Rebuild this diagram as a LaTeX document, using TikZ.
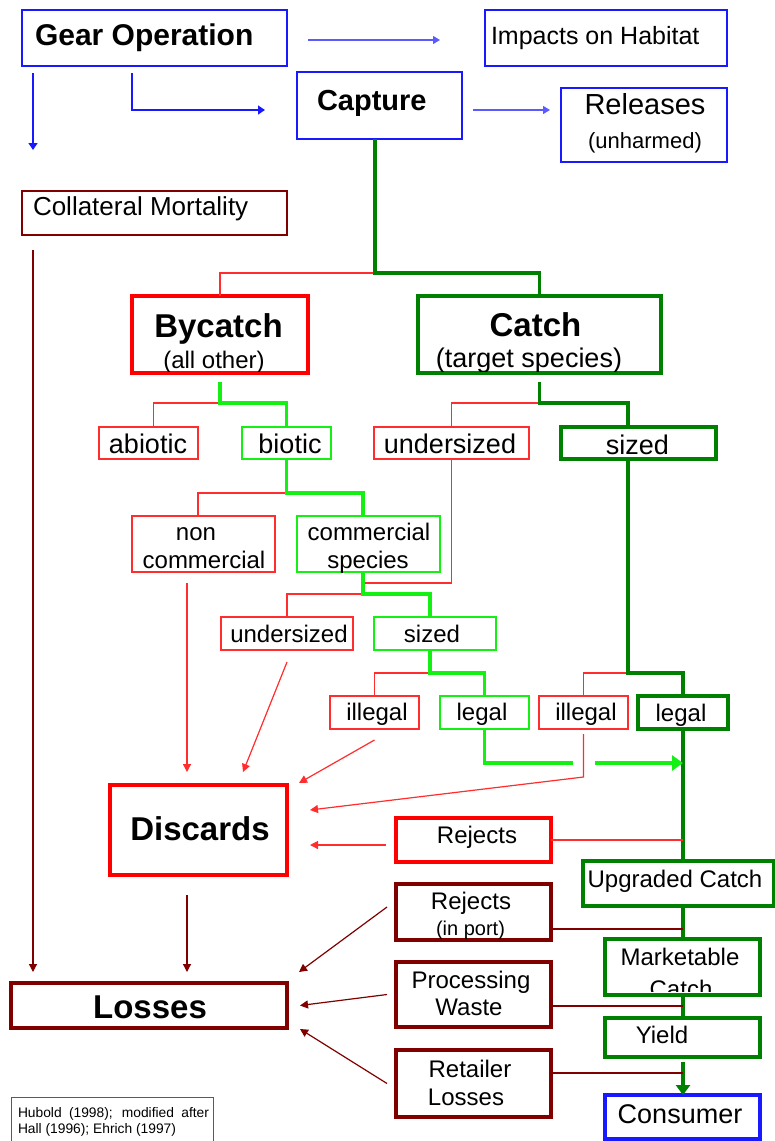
\documentclass[tikz,border=0pt]{standalone}
\usepackage{fontspec}
\setmainfont{Liberation Sans}
\usetikzlibrary{arrows.meta,calc}
\definecolor{myblue}{RGB}{25,25,255}
\definecolor{lblue}{RGB}{90,90,255}
\definecolor{myred}{RGB}{255,0,0}
\definecolor{tred}{RGB}{255,45,45}
\definecolor{dred}{RGB}{128,0,0}
\definecolor{dgreen}{RGB}{0,128,0}
\definecolor{lgreen}{RGB}{20,240,20}
\definecolor{cgray}{RGB}{90,90,90}
\newcommand\fsz[1]{\fontsize{#1pt}{#1pt}\selectfont}
\newcommand\mkbox[6]{\node[#2, minimum width={(#5-#3)*1pt}, minimum height={(#6-#4)*1pt}] (#1) at ({(#3+#5)/2},{(#4+#6)/2}) {};}
\tikzset{
  bx/.style={draw, rectangle, inner sep=0pt, outer sep=0pt},
  bluebox/.style={bx, draw=myblue, line width=2pt},
  bluethick/.style={bx, draw=myblue, line width=3.5pt},
  dredthin/.style={bx, draw=dred, line width=2pt},
  dredbox/.style={bx, draw=dred, line width=3.2pt},
  redbig/.style={bx, draw=myred, line width=3.5pt},
  redthin/.style={bx, draw=tred, line width=1.5pt},
  dgbox/.style={bx, draw=dgreen, line width=3.2pt},
  lgbox/.style={bx, draw=lgreen, line width=1.5pt},
  citebox/.style={bx, draw=cgray, line width=1pt},
  tx/.style={inner sep=0pt, outer sep=0pt, anchor=base},
  gthick/.style={draw=dgreen, line width=3.2pt},
  lgthick/.style={draw=lgreen, line width=3.2pt},
  rthin/.style={draw=tred, line width=1.4pt},
  drthin/.style={draw=dred, line width=1.4pt},
  barrow/.style={draw=myblue, line width=1.3pt, -{Triangle[length=7pt,width=9pt]}},
  lbarrow/.style={draw=lblue, line width=1.3pt, -{Triangle[length=7pt,width=8pt]}},
  rarrow/.style={draw=tred, line width=1.2pt, -{Triangle[length=8pt,width=8pt]}},
  drarrow/.style={draw=dred, line width=1.2pt, -{Triangle[length=8pt,width=8pt]}},
}
\begin{document}
\begin{tikzpicture}[x=1pt,y=-1pt]
\useasboundingbox (0,0) rectangle (775,1141);
\clip (0,0) rectangle (775,1141);
\fill[white] (0,0) rectangle (775,1141);

% boxes
\mkbox{gear}{bluebox}{22}{10}{287}{66}
\mkbox{imp}{bluebox}{485}{10}{727}{66}
\mkbox{cap}{bluebox}{297}{72}{462}{139}
\mkbox{rel}{bluebox}{561}{88}{727}{162}
\mkbox{col}{dredthin}{22}{191}{287}{235}
\mkbox{byc}{redbig}{132}{296}{308}{373}
\mkbox{cat}{dgbox}{418}{296}{661}{373}
\mkbox{abio}{redthin}{99}{427}{198}{459}
\mkbox{bio}{lgbox}{242}{427}{331}{459}
\mkbox{und1}{redthin}{374}{427}{529}{459}
\mkbox{siz1}{dgbox}{561}{427}{716}{459}
\mkbox{nonc}{redthin}{132}{516}{275}{572}
\mkbox{coms}{lgbox}{297}{516}{440}{572}
\mkbox{und2}{redthin}{221}{617}{353}{650}
\mkbox{siz2}{lgbox}{374}{617}{496}{650}
\mkbox{ill1}{redthin}{330}{696}{419}{729}
\mkbox{leg1}{lgbox}{440}{696}{529}{729}
\mkbox{ill2}{redthin}{539}{696}{628}{729}
\mkbox{leg2}{dgbox}{638}{696}{728}{729}
\mkbox{disc}{redbig}{110}{785}{287}{875}
\mkbox{rej}{bx,draw=myred,line width=3.2pt}{396}{818}{551}{862}
\mkbox{upg}{dgbox}{583}{861}{774}{906}
\mkbox{rejp}{dredbox}{396}{884}{551}{940}
\mkbox{mkt}{dgbox}{605}{939}{760}{995}
\mkbox{proc}{dredbox}{396}{962}{551}{1027}
\mkbox{yld}{dgbox}{605}{1018}{760}{1057}
\mkbox{ret}{dredbox}{396}{1050}{551}{1117}
\mkbox{cons}{bluethick}{605}{1095}{760}{1139}
\mkbox{loss}{dredbox}{11}{983}{287}{1028}
\mkbox{cite}{citebox}{11}{1097}{213}{1150}

% texts
\node[tx, anchor=base west, font=\fsz{30}\bfseries] (tgear) at (35,45) {Gear Operation};
\node[tx, anchor=base west, font=\fsz{25}] (timp) at (491,44) {Impacts on Habitat};
\node[tx, anchor=base west, font=\fsz{29}\bfseries] (tcap) at (317,110) {Capture};
\node[tx, font=\fsz{29}] (trel1) at (645,114) {Releases};
\node[tx, font=\fsz{22}] (trel2) at (645,148) {(unharmed)};
\node[tx, anchor=base west, font=\fsz{26}] (tcol) at (33,215) {Collateral Mortality};
\node[tx, font=\fsz{33}\bfseries] (tbyc1) at (218.5,337) {Bycatch};
\begin{scope}
\clip ([xshift=2pt,yshift=2pt]byc.south west) rectangle ([xshift=-2pt,yshift=-2pt]byc.north east);
\node[tx, font=\fsz{24}] (tbyc2) at (214,368) {(all other)};
\end{scope}
\node[tx, font=\fsz{33}\bfseries] (tcat1) at (535.5,336) {Catch};
\begin{scope}
\clip ([xshift=2pt,yshift=2pt]cat.south west) rectangle ([xshift=-2pt,yshift=-2pt]cat.north east);
\node[tx, font=\fsz{27}] (tcat2) at (529,367) {(target species)};
\end{scope}
\node[tx, font=\fsz{27}] (tabio) at (148,453) {abiotic};
\node[tx, font=\fsz{27}] (tbio) at (290,453) {biotic};
\node[tx, font=\fsz{27}] (tund1) at (450,453) {undersized};
\node[tx, font=\fsz{27}] (tsiz1) at (637.5,454) {sized};
\node[tx, font=\fsz{24}] (tnon1) at (196,540) {non};
\node[tx, font=\fsz{24}] (tnon2) at (204,568) {commercial};
\node[tx, font=\fsz{24}] (tcom1) at (369,540) {commercial};
\node[tx, font=\fsz{24}] (tcom2) at (368,568) {species};
\node[tx, font=\fsz{24}] (tund2) at (289,642) {undersized};
\node[tx, font=\fsz{24}] (tsiz2) at (432,642) {sized};
\node[tx, font=\fsz{24}] (till1) at (377,720) {illegal};
\node[tx, font=\fsz{24}] (tleg1) at (482,720) {legal};
\node[tx, font=\fsz{24}] (till2) at (586,720) {illegal};
\node[tx, font=\fsz{24}] (tleg2) at (681,721) {legal};
\node[tx, font=\fsz{33}\bfseries] (tdisc) at (200,840) {Discards};
\node[tx, font=\fsz{24}] (trej) at (477,843) {Rejects};
\node[tx, font=\fsz{24}] (tupg) at (675,887) {Upgraded Catch};
\node[tx, font=\fsz{24}] (trejp1) at (471,909) {Rejects};
\node[tx, font=\fsz{20}] (trejp2) at (470.5,935) {(in port)};
\node[tx, font=\fsz{24}] (tmkt1) at (680,965) {Marketable};
\begin{scope}
\clip ([xshift=2pt,yshift=4pt]mkt.south west) rectangle ([xshift=-2pt,yshift=-2pt]mkt.north east);
\node[tx, font=\fsz{24}] (tmkt2) at (681,997) {Catch};
\end{scope}
\node[tx, font=\fsz{24}] (tproc1) at (471,988) {Processing};
\node[tx, font=\fsz{24}] (tproc2) at (469,1015) {Waste};
\node[tx, font=\fsz{24}] (tyld) at (662,1043) {Yield};
\node[tx, font=\fsz{24}] (tret1) at (470,1077) {Retailer};
\node[tx, font=\fsz{24}] (tret2) at (466,1105) {Losses};
\node[tx, font=\fsz{27}] (tcons) at (680,1123) {Consumer};
\node[tx, font=\fsz{33}\bfseries] (tloss) at (150,1018) {Losses};
\node[tx, anchor=base west, font=\fsz{13.8}] (tcite1) at (18,1117) {\makebox[191pt][s]{Hubold (1998); modified after}};
\node[tx, anchor=base west, font=\fsz{13.8}] (tcite2) at (18,1133) {Hall (1996); Ehrich (1997)};

% junctions
\coordinate (jc) at (375,273);
\coordinate (jb) at (220,403);
\coordinate (jt) at (539.5,403);
\coordinate (jbi) at (286.5,493);
\coordinate (ju) at (363,583);
\coordinate (jcs) at (363,594);
\coordinate (js2) at (430,673);
\coordinate (js1) at (628,673);
\coordinate (gap1) at (573,763);
\coordinate (gap2) at (595,763);
\coordinate (ji2) at (583.5,777);
\coordinate (sp) at (683,0);

% blue arrows
\draw[lbarrow] ([xshift=21pt,yshift=-2pt]gear.east) -- ([xshift=-45pt,yshift=-2pt]imp.west);
\draw[barrow] ([xshift=11pt,yshift=-7pt]gear.south west) -- ([xshift=11pt,yshift=41pt]col.north west);
\draw[barrow] ([xshift=110pt,yshift=-7pt]gear.south west) |- ([xshift=-32pt,yshift=-4.5pt]cap.west);
\draw[lbarrow] ([xshift=11pt,yshift=-4.5pt]cap.east) -- ([xshift=-11pt,yshift=15pt]rel.west);

% tree
\draw[rthin] (jc) -| (byc.north);
\draw[gthick] (jc |- cap.south) -- ([yshift=-2pt]jc);
\draw[gthick] (jc) -| (cat.north);
\draw[rthin] (jb) -| ([xshift=5pt]abio.north);
\draw[lgthick] ([yshift=-9pt]byc.south) -- (jb) -| (bio.north);
\draw[rthin] (jt) -| (und1.north);
\draw[gthick] ([yshift=-9pt]cat.south) -- (jt) -| ([xshift=-10.5pt]siz1.north);
\draw[rthin] (jbi) -| ([xshift=-5.5pt]nonc.north);
\draw[lgthick] (bio.south) -- (jbi) -| ([xshift=-5.5pt]coms.north);
\draw[rthin] (und1.south) |- (ju);
\draw[rthin] (jcs) -| (und2.north);
\draw[lgthick] ([xshift=-5.5pt]coms.south) -- (jcs) -| ([xshift=-5pt]siz2.north);
\draw[rthin] (js2) -| (ill1.north);
\draw[lgthick] ([xshift=-5pt]siz2.south) -- (js2) -| (leg1.north);
\draw[rthin] (js1) -| (ill2.north);
\draw[gthick] ([xshift=-10.5pt]siz1.south) -- (js1) -| (leg2.north);

% main green spine
\draw[gthick] (leg2.south) -- (leg2.south |- upg.north);
\draw[gthick] (upg.south -| sp) -- (mkt.north -| sp);
\draw[gthick] (mkt.south -| sp) -- (yld.north -| sp);
\draw[gthick, shorten <=5pt, -{Triangle[length=10pt,width=14pt]}] (yld.south -| sp) -- (cons.north -| sp);
\draw[lgthick] (leg1.south) |- (gap1);
\draw[lgthick, -{Triangle[length=11pt,width=15pt]}] (gap2) -- (gap2 -| sp);

% red to discards
\draw[rarrow] ([yshift=-5pt]ill2.south) -- (ji2) -- ([xshift=23pt,yshift=20pt]disc.east);
\draw[rarrow] ([yshift=-11pt]ill1.south) -- ([xshift=12pt,yshift=2pt]disc.north east);
\draw[rarrow] ([yshift=-12pt]und2.south) -- ([xshift=44.5pt,yshift=13pt]disc.north);
\draw[rarrow] ([xshift=-16.5pt,yshift=-11pt]nonc.south) -- ([xshift=-11.5pt,yshift=13pt]disc.north);
\draw[rarrow] ([xshift=-10pt,yshift=-5pt]rej.west) -- ([xshift=23pt,yshift=-15pt]disc.east);
\draw[rthin] (rej.east) -- (rej.east -| sp);

% dark red lines
\draw[drthin] ([yshift=-17pt]rejp.east) -- ++(132pt,0);
\draw[drthin] ([yshift=-11.5pt]proc.east) -- ++(132pt,0);
\draw[drthin] ([yshift=10.5pt]ret.east) -- ++(132pt,0);

% to losses
\draw[drarrow] ([xshift=-11.5pt,yshift=-20pt]disc.south) -- ([xshift=38pt,yshift=11pt]loss.north);
\draw[drarrow] ([xshift=11pt,yshift=-15pt]col.south west) -- ([xshift=22pt,yshift=11pt]loss.north west);
\draw[drarrow] ([xshift=-9pt,yshift=5pt]rejp.west) -- ([xshift=12pt,yshift=11pt]loss.north east);
\draw[drarrow] ([xshift=-9pt]proc.west) -- ([xshift=13pt]loss.east);
\draw[drarrow] ([xshift=-9pt]ret.west) -- ([xshift=13pt,yshift=-1pt]loss.south east);
\end{tikzpicture}
\end{document}
